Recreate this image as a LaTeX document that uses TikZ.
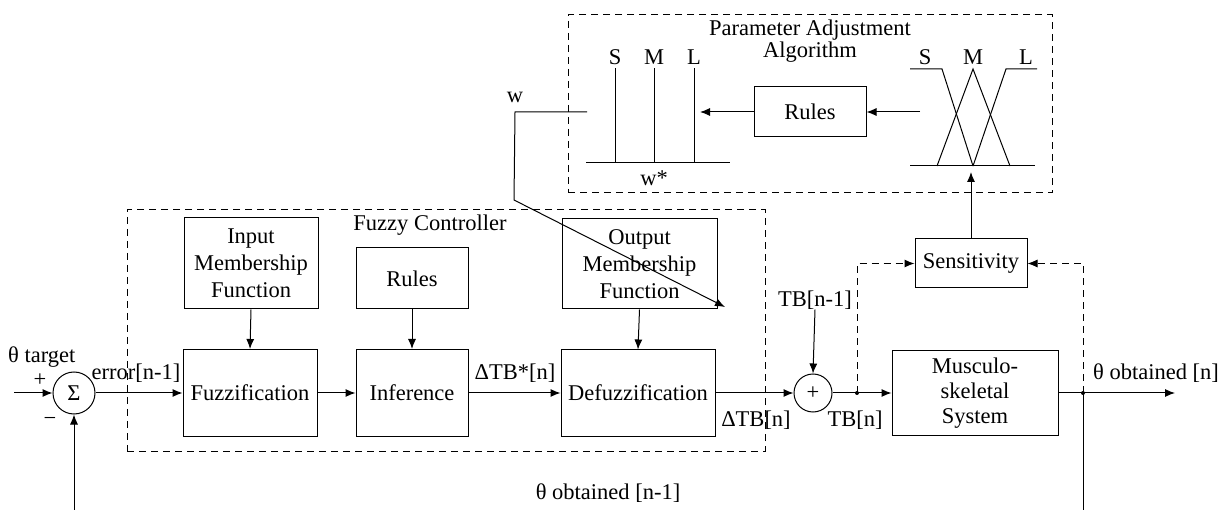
\documentclass[tikz,border=0pt]{standalone}
\usepackage{fontspec}
\setmainfont{Liberation Serif}
\usetikzlibrary{arrows.meta}
\begin{document}
\begin{tikzpicture}[x=1pt,y=-1pt,
  font=\fontsize{22.5}{26}\selectfont,
  every node/.style={inner sep=0pt},
  blk/.style={draw, line width=1pt, align=center, inner sep=0pt},
  conn/.style={line width=1pt, -{Latex[length=10pt,width=8pt]}},
  ln/.style={line width=1pt},
  dsh/.style={line width=1pt, dash pattern=on 7pt off 5pt},
  dbox/.style={draw, dsh}]
\useasboundingbox (0,0) rectangle (1226,510);

% dashed frames
\node[dbox, minimum width=638pt, minimum height=241pt] (fc) at (446,330.5) {};
\node[dbox, minimum width=484pt, minimum height=178pt] (pab) at (810,104) {};
\node (fclab) at (430,225) {Fuzzy Controller};
\node[align=center, font=\fontsize{22.5}{18}\selectfont] (pablab) at (810,41) {Parameter Adjustment\\Algorithm};

% blocks
\node[blk, minimum width=134pt, minimum height=91pt, font=\fontsize{22.5}{27}\selectfont] (imf) at (251,263.5) {Input\\Membership\\Function};
\node[blk, minimum width=134pt, minimum height=87pt] (fuzz) at (250,393) {Fuzzification};
\node[blk, minimum width=112pt, minimum height=61pt] (rules1) at (412,278.5) {Rules};
\node[blk, minimum width=112pt, minimum height=87pt] (inf) at (412,393) {Inference};
\node[blk, minimum width=155pt, minimum height=90pt, font=\fontsize{22.5}{27}\selectfont] (omf) at (639.5,264) {Output\\Membership\\Function};
\node[blk, minimum width=154pt, minimum height=86pt] (defuzz) at (638,393) {Defuzzification};
\node[blk, minimum width=112pt, minimum height=49pt] (sens) at (971,263.5) {Sensitivity};
\node[blk, minimum width=166pt, minimum height=85pt, font=\fontsize{22.5}{25}\selectfont] (msk) at (975,393) {Musculo-\\skeletal\\System};
\node[blk, minimum width=112pt, minimum height=50pt] (rules2) at (810,112) {Rules};

% summing junctions
\node[draw, ln, circle, minimum size=42pt] (sum) at (74,393) {Σ};
\node[draw, ln, circle, minimum size=38pt] (plus) at (813,393) {+};

% labels
\node[anchor=west] (thtarget) at (8,357) {θ target};
\node (pl) at (40,380) {+};
\node (mi) at (50,421) {−};
\node (err) at (136,373) {error[n-1]};
\node (dtbs) at (515,373) {ΔTB*[n]};
\node (dtb) at (756,420) {ΔTB[n]};
\node (tbn) at (855,420) {TB[n]};
\node (tbn1) at (815,300) {TB[n-1]};
\node (thout) at (1156,373) {θ obtained [n]};
\node (thfb) at (608,493) {θ obtained [n-1]};

% coordinates
\coordinate (in1) at (14,393);
\coordinate (fb1) at (74,510);
\coordinate (j1) at (857,393);
\coordinate (j2) at (1083,393);
\coordinate (out) at (1175,393);
\coordinate (fb2) at (1083,510);
\coordinate (mfin) at (971,172);
\coordinate (rin) at (920,112);
\coordinate (lmfin) at (700,112);
\coordinate (wa) at (587,112);
\coordinate (wb) at (515,112);
\coordinate (wc) at (514,200);
\coordinate (wd) at (725,307);

% main path
\draw[conn] (in1) -- (sum.west);
\draw[conn] (fb1) -- (sum.south);
\draw[conn] (sum.east) -- (fuzz.west);
\draw[conn] (imf.south) -- (fuzz.north);
\draw[conn] (fuzz.east) -- (inf.west);
\draw[conn] (rules1.south) -- (inf.north);
\draw[conn] (inf.east) -- (defuzz.west);
\draw[conn] (omf.south) -- (defuzz.north);
\draw[conn] (defuzz.east) -- (plus.west);
\draw[conn] (tbn1.south) -- (plus.north);
\draw[conn] (plus.east) -- (msk.west);
\draw[conn] (msk.east) -- (out);
\draw[ln] (j2) -- (fb2);
\fill (j1) circle (2pt);
\fill (j2) circle (2pt);
\draw[dsh, -{Latex[length=10pt,width=8pt]}] (j1) |- (sens.west);
\draw[dsh, -{Latex[length=10pt,width=8pt]}] (j2) |- (sens.east);
\draw[conn] (sens.north) -- (mfin);
\draw[conn] (rin) -- (rules2.east);
\draw[conn] (rules2.west) -- (lmfin);
\draw[conn] (wa) -- (wb) -- (wc) -- (wd);
\node (wlab) at (515,97) {w};

% left membership (singletons)
\draw[ln] (586,163) -- (730,163);
\draw[ln] (615,163) -- (615,68);
\draw[ln] (654,163) -- (654,68);
\draw[ln] (694,163) -- (694,68);
\node (ls) at (615,57) {S};
\node (lm) at (654,57) {M};
\node (ll) at (694,57) {L};
\node (wst) at (654,178) {w*};

% right membership (triangles)
\draw[ln] (910,166) -- (1035,166);
\draw[ln] (910,69) -- (942,69) -- (973,166);
\draw[ln] (937,166) -- (973,69) -- (1010,166);
\draw[ln] (973,166) -- (1006,69) -- (1037,69);
\node (rs) at (925,57) {S};
\node (rm) at (973,57) {M};
\node (rl) at (1026,57) {L};
\end{tikzpicture}
\end{document}
